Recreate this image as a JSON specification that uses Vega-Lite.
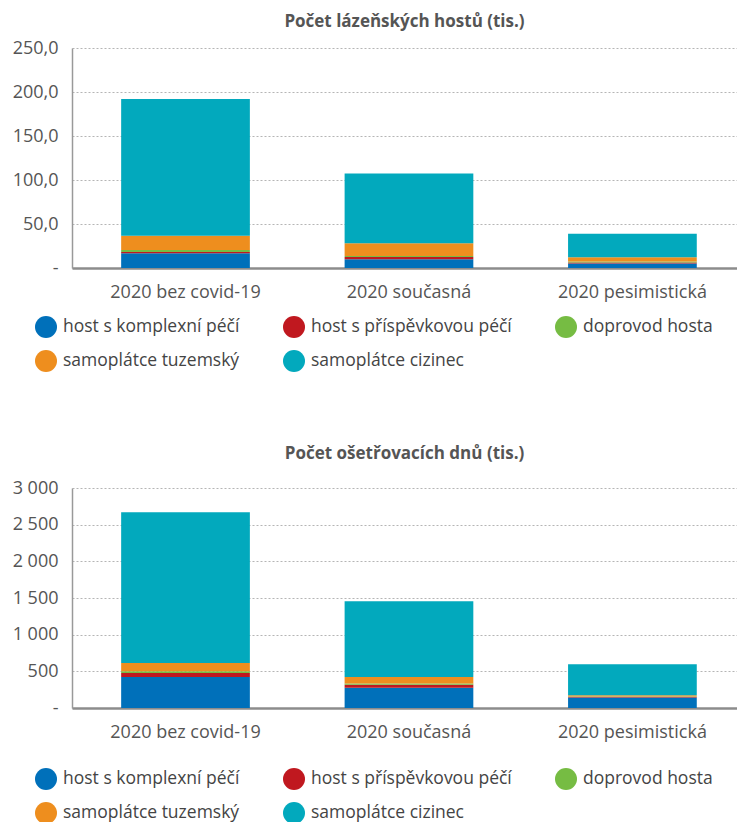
{
  "$schema": "https://vega.github.io/schema/vega-lite/v6.json",
  "background": "white",
  "padding": {"left": 12, "top": 13, "right": 0, "bottom": 0},
  "autosize": {"type": "pad"},
  "spacing": 73,
  "config": {
    "font": "Open Sans",
    "view": {"stroke": null},
    "title": {"fontSize": 17, "fontWeight": "bold", "color": "#555555", "frame": "group", "anchor": "middle", "offset": 8},
    "axis": {"labelFontSize": 18, "labelColor": "#555555", "ticks": false, "titleFontSize": 14},
    "legend": {
      "orient": "none",
      "direction": "horizontal",
      "columns": 3,
      "symbolType": "circle",
      "symbolSize": 484,
      "symbolStrokeWidth": 0,
      "labelFontSize": 17.5,
      "labelColor": "#444444",
      "labelLimit": 400,
      "labelOffset": 6,
      "columnPadding": 43,
      "rowPadding": 12,
      "title": null
    }
  },
  "datasets": {
    "hoste": [
      {"scenar": "2020 bez covid-19", "kat": "host s komplexní péčí", "poradi": 1, "hodnota": 16.7},
      {"scenar": "2020 bez covid-19", "kat": "host s příspěvkovou péčí", "poradi": 2, "hodnota": 1.4},
      {"scenar": "2020 bez covid-19", "kat": "doprovod hosta", "poradi": 3, "hodnota": 2.3},
      {"scenar": "2020 bez covid-19", "kat": "samoplátce tuzemský", "poradi": 4, "hodnota": 16.3},
      {"scenar": "2020 bez covid-19", "kat": "samoplátce cizinec", "poradi": 5, "hodnota": 155.3},
      {"scenar": "2020 současná", "kat": "host s komplexní péčí", "poradi": 1, "hodnota": 10.0},
      {"scenar": "2020 současná", "kat": "host s příspěvkovou péčí", "poradi": 2, "hodnota": 2.6},
      {"scenar": "2020 současná", "kat": "doprovod hosta", "poradi": 3, "hodnota": 1.1},
      {"scenar": "2020 současná", "kat": "samoplátce tuzemský", "poradi": 4, "hodnota": 14.4},
      {"scenar": "2020 současná", "kat": "samoplátce cizinec", "poradi": 5, "hodnota": 79.2},
      {"scenar": "2020 pesimistická", "kat": "host s komplexní péčí", "poradi": 1, "hodnota": 5.2},
      {"scenar": "2020 pesimistická", "kat": "host s příspěvkovou péčí", "poradi": 2, "hodnota": 1.1},
      {"scenar": "2020 pesimistická", "kat": "doprovod hosta", "poradi": 3, "hodnota": 1.1},
      {"scenar": "2020 pesimistická", "kat": "samoplátce tuzemský", "poradi": 4, "hodnota": 4.8},
      {"scenar": "2020 pesimistická", "kat": "samoplátce cizinec", "poradi": 5, "hodnota": 26.7}
    ],
    "dny": [
      {"scenar": "2020 bez covid-19", "kat": "host s komplexní péčí", "poradi": 1, "hodnota": 424},
      {"scenar": "2020 bez covid-19", "kat": "host s příspěvkovou péčí", "poradi": 2, "hodnota": 54},
      {"scenar": "2020 bez covid-19", "kat": "doprovod hosta", "poradi": 3, "hodnota": 22},
      {"scenar": "2020 bez covid-19", "kat": "samoplátce tuzemský", "poradi": 4, "hodnota": 112},
      {"scenar": "2020 bez covid-19", "kat": "samoplátce cizinec", "poradi": 5, "hodnota": 2056},
      {"scenar": "2020 současná", "kat": "host s komplexní péčí", "poradi": 1, "hodnota": 277},
      {"scenar": "2020 současná", "kat": "host s příspěvkovou péčí", "poradi": 2, "hodnota": 40},
      {"scenar": "2020 současná", "kat": "doprovod hosta", "poradi": 3, "hodnota": 18},
      {"scenar": "2020 současná", "kat": "samoplátce tuzemský", "poradi": 4, "hodnota": 89},
      {"scenar": "2020 současná", "kat": "samoplátce cizinec", "poradi": 5, "hodnota": 1030},
      {"scenar": "2020 pesimistická", "kat": "host s komplexní péčí", "poradi": 1, "hodnota": 143},
      {"scenar": "2020 pesimistická", "kat": "host s příspěvkovou péčí", "poradi": 2, "hodnota": 8},
      {"scenar": "2020 pesimistická", "kat": "doprovod hosta", "poradi": 3, "hodnota": 5},
      {"scenar": "2020 pesimistická", "kat": "samoplátce tuzemský", "poradi": 4, "hodnota": 18},
      {"scenar": "2020 pesimistická", "kat": "samoplátce cizinec", "poradi": 5, "hodnota": 424}
    ]
  },
  "resolve": {"legend": {"color": "independent"}},
  "vconcat": [
    {
      "title": "Počet lázeňských hostů (tis.)",
      "data": {"name": "hoste"},
      "width": 665,
      "height": 220,
      "mark": {"type": "bar"},
      "encoding": {
        "x": {
          "field": "scenar", "type": "nominal",
          "sort": ["2020 bez covid-19", "2020 současná", "2020 pesimistická"],
          "scale": {"paddingInner": 0.424, "paddingOuter": 0.2, "align": 0.55},
          "axis": {"title": null, "labelAngle": 0, "labelPadding": 15, "domainColor": "#8c8c8c", "domainWidth": 2.5, "grid": false}
        },
        "y": {
          "field": "hodnota", "type": "quantitative", "stack": "zero",
          "scale": {"domain": [0, 250], "nice": false},
          "axis": {
            "title": null, "values": [0, 50, 100, 150, 200, 250],
            "labelExpr": "datum.value == 0 ? '-' : replace(format(datum.value, '.1f'), '.', ',')",
            "labelPadding": 14, "domainColor": "#999999", "domainWidth": 1.5,
            "grid": true, "gridColor": "#b5b5b5", "gridDash": [2, 2], "gridWidth": 1
          }
        },
        "color": {
          "field": "kat", "type": "nominal",
          "scale": {
            "domain": ["host s komplexní péčí", "host s příspěvkovou péčí", "doprovod hosta", "samoplátce tuzemský", "samoplátce cizinec"],
            "range": ["#0070ba", "#c0181f", "#76bc43", "#ee8e1e", "#02a9bd"]
          },
          "legend": {"legendX": -37, "legendY": 268}
        },
        "order": {"field": "poradi", "type": "quantitative", "sort": "ascending"}
      }
    },
    {
      "title": {"text": "Počet ošetřovacích dnů (tis.)", "offset": 16},
      "data": {"name": "dny"},
      "width": 665,
      "height": 220,
      "mark": {"type": "bar"},
      "encoding": {
        "x": {
          "field": "scenar", "type": "nominal",
          "sort": ["2020 bez covid-19", "2020 současná", "2020 pesimistická"],
          "scale": {"paddingInner": 0.424, "paddingOuter": 0.2, "align": 0.55},
          "axis": {"title": null, "labelAngle": 0, "labelPadding": 15, "domainColor": "#8c8c8c", "domainWidth": 2.5, "grid": false}
        },
        "y": {
          "field": "hodnota", "type": "quantitative", "stack": "zero",
          "scale": {"domain": [0, 3000], "nice": false},
          "axis": {
            "title": null, "values": [0, 500, 1000, 1500, 2000, 2500, 3000],
            "labelExpr": "datum.value == 0 ? '-' : replace(format(datum.value, ',d'), ',', ' ')",
            "labelPadding": 14, "domainColor": "#999999", "domainWidth": 1.5,
            "grid": true, "gridColor": "#b5b5b5", "gridDash": [2, 2], "gridWidth": 1
          }
        },
        "color": {
          "field": "kat", "type": "nominal",
          "scale": {
            "domain": ["host s komplexní péčí", "host s příspěvkovou péčí", "doprovod hosta", "samoplátce tuzemský", "samoplátce cizinec"],
            "range": ["#0070ba", "#c0181f", "#76bc43", "#ee8e1e", "#02a9bd"]
          },
          "legend": {"legendX": -37, "legendY": 280}
        },
        "order": {"field": "poradi", "type": "quantitative", "sort": "ascending"}
      }
    }
  ]
}
